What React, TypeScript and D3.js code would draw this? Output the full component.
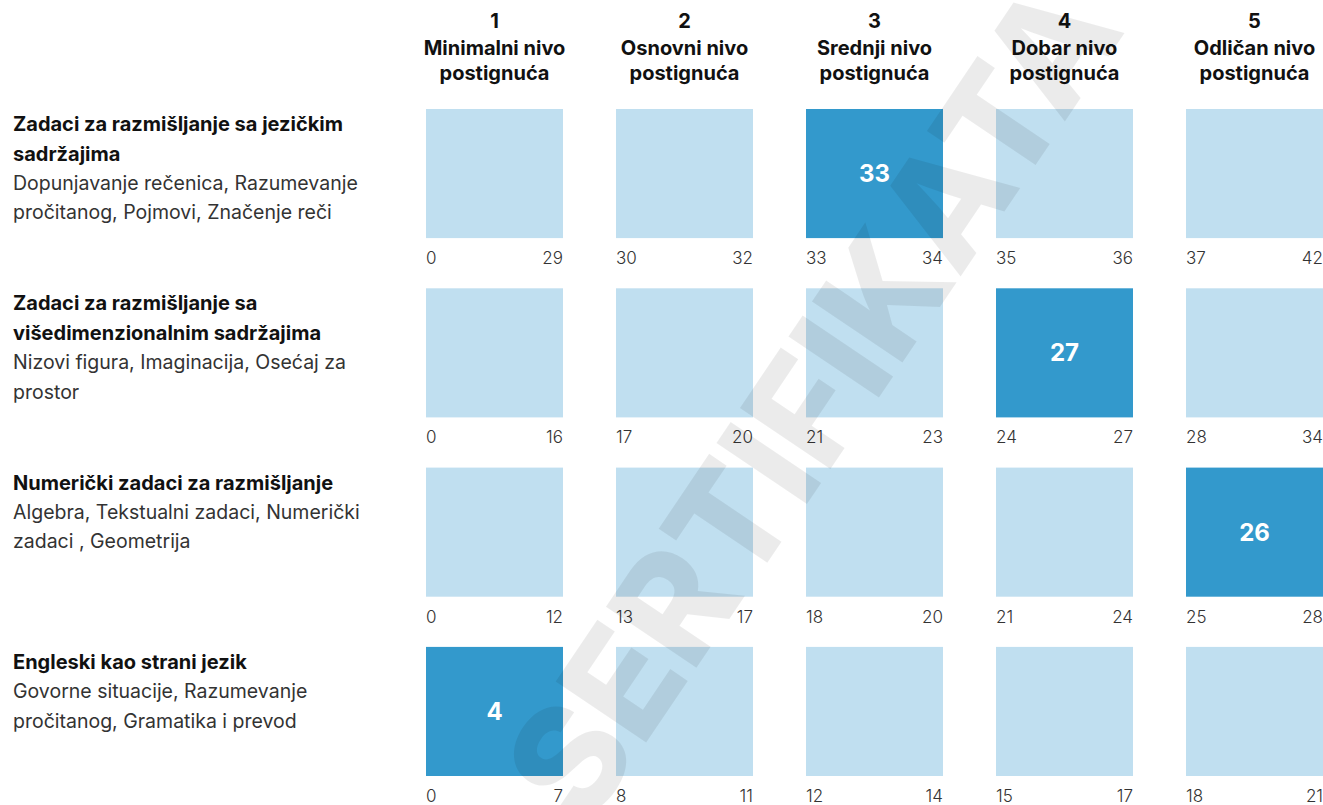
import React from "react";
import * as d3 from "d3";

const levels = ["1", "2", "3", "4", "5"];
const levelNames = [
  ["Minimalni nivo", "postignuća"],
  ["Osnovni nivo", "postignuća"],
  ["Srednji nivo", "postignuća"],
  ["Dobar nivo", "postignuća"],
  ["Odličan nivo", "postignuća"],
];

const rowTitles = [
  ["Zadaci za razmišljanje sa jezičkim", "sadržajima"],
  ["Zadaci za razmišljanje sa", "višedimenzionalnim sadržajima"],
  ["Numerički zadaci za razmišljanje"],
  ["Engleski kao strani jezik"],
];
const rowSubtitles = [
  ["Dopunjavanje rečenica, Razumevanje", "pročitanog, Pojmovi, Značenje reči"],
  ["Nizovi figura, Imaginacija, Osećaj za", "prostor"],
  ["Algebra, Tekstualni zadaci, Numerički", "zadaci , Geometrija"],
  ["Govorne situacije, Razumevanje", "pročitanog, Gramatika i prevod"],
];

const rangeMin = [
  [0, 30, 33, 35, 37],
  [0, 17, 21, 24, 28],
  [0, 13, 18, 21, 25],
  [0, 8, 12, 15, 18],
];
const rangeMax = [
  [29, 32, 34, 36, 42],
  [16, 20, 23, 27, 34],
  [12, 17, 20, 24, 28],
  [7, 11, 14, 17, 21],
];
const scores = [33, 27, 26, 4];
const scoreLevel = [3, 4, 5, 1];

const watermark = "SERTIFIKATA";

const W = 1323;
const H = 805;
const FONT = "Inter, Roboto, 'Noto Sans', sans-serif";
const LIGHT = "#c0dff0";
const DARK = "#3399cc";

export default function App() {
  const rows = d3.range(rowTitles.length);
  const x = d3.scaleBand<string>().domain(levels).range([426, 1323]).paddingInner(53 / 190);
  const y = d3.scaleBand<number>().domain(rows).range([109, 776]).paddingInner(0.28);
  const bw = x.bandwidth();
  const bh = y.bandwidth();

  return (
    <div style={{ position: "absolute", left: 0, top: 0 }}>
      <svg width={W} height={H} style={{ display: "block", fontFamily: FONT }}>
        <rect width={W} height={H} fill="#fff" />
        {/* headers */}
        {levels.map((lv, i) => {
          const cx = (x(lv) as number) + bw / 2;
          return (
            <g key={lv} textAnchor="middle" fontWeight={700} fontSize={20} fill="#111">
              <text x={cx} y={21} dy="0.35em">{lv}</text>
              <text x={cx} y={48} dy="0.35em">{levelNames[i][0]}</text>
              <text x={cx} y={73} dy="0.35em">{levelNames[i][1]}</text>
            </g>
          );
        })}
        {/* rows */}
        {rows.map((r) => {
          const top = y(r) as number;
          const lines = [
            ...rowTitles[r].map((t) => ({ t, b: true })),
            ...rowSubtitles[r].map((t) => ({ t, b: false })),
          ];
          return (
            <g key={r}>
              {lines.map((l, k) => (
                <text
                  key={k}
                  x={13}
                  y={top + 15 + k * 29.5}
                  dy="0.35em"
                  fontSize={l.b ? 20 : 19.5}
                  fontWeight={l.b ? 700 : 400}
                  fill={l.b ? "#111" : "#333"}
                >
                  {l.t}
                </text>
              ))}
              {levels.map((lv, i) => {
                const x0 = x(lv) as number;
                const active = scoreLevel[r] === i + 1;
                return (
                  <g key={lv}>
                    <rect x={x0} y={top} width={bw} height={bh} fill={active ? DARK : LIGHT} />
                    {active && (
                      <text
                        x={x0 + bw / 2}
                        y={top + bh / 2}
                        dy="0.35em"
                        textAnchor="middle"
                        fontSize={24}
                        fontWeight={700}
                        fill="#fff"
                      >
                        {scores[r]}
                      </text>
                    )}
                    <text x={x0} y={top + bh + 20} dy="0.35em" fontSize={17} fontWeight={300} fill="#333">
                      {rangeMin[r][i]}
                    </text>
                    <text
                      x={x0 + bw}
                      y={top + bh + 20}
                      dy="0.35em"
                      textAnchor="end"
                      fontSize={17}
                      fontWeight={300}
                      fill="#333"
                    >
                      {rangeMax[r][i]}
                    </text>
                  </g>
                );
              })}
            </g>
          );
        })}
        {/* watermark */}
        <text
          transform="translate(812,400) rotate(-56)"
          textAnchor="middle"
          dy="0.36em"
          fontSize={150}
          fontWeight={800}
          textLength={965}
          lengthAdjust="spacingAndGlyphs"
          fill="#000"
          fillOpacity={0.08}
        >
          {watermark}
        </text>
      </svg>
    </div>
  );
}
